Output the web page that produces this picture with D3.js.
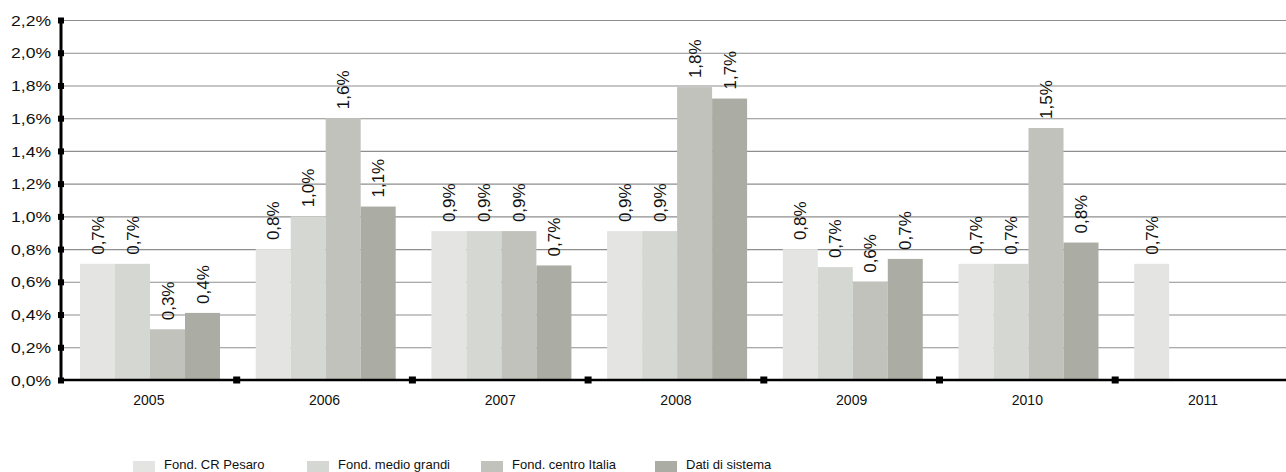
<!DOCTYPE html>
<html>
<head>
<meta charset="utf-8">
<script src="https://cdn.jsdelivr.net/npm/d3@7"></script>
<style>
  html, body { margin: 0; padding: 0; background: #fff; }
  svg { display: block; font-family: "Liberation Sans", Arial, Helvetica, sans-serif; }
</style>
</head>
<body>
<svg id="chart" width="1286" height="472"></svg>
<script>
// Rendimenti annui per anno (valori in punti percentuali)
const years = ["2005", "2006", "2007", "2008", "2009", "2010", "2011"];
const seriesNames = ["Fond. CR Pesaro", "Fond. medio grandi", "Fond. centro Italia", "Dati di sistema"];
const crPesaro     = [0.71, 0.80, 0.91, 0.91, 0.80, 0.71, 0.71];
const medioGrandi  = [0.71, 1.00, 0.91, 0.91, 0.69, 0.71, null];
const centroItalia = [0.31, 1.60, 0.91, 1.79, 0.60, 1.54, null];
const datiSistema  = [0.41, 1.06, 0.70, 1.72, 0.74, 0.84, null];
const yTicks = [0, 0.2, 0.4, 0.6, 0.8, 1.0, 1.2, 1.4, 1.6, 1.8, 2.0, 2.2];
const colors = ["#e4e4e2", "#d5d7d3", "#c0c2bb", "#abada5"];

const seriesValues = [crPesaro, medioGrandi, centroItalia, datiSistema];

const svg = d3.select("#chart");
const W = 1286;
const plotLeft = 61, plotTop = 20, plotBottom = 380;
const step = 175.7;
const labelStretch = 1.17;

const it = d3.formatLocale({ decimal: ",", thousands: ".", grouping: [3], currency: ["€", ""] });
const fmt = v => it.format(".1f")(v) + "%";

const x0 = d3.scaleBand().domain(years).range([plotLeft, plotLeft + step * years.length]).padding(0);
const x1 = d3.scaleBand().domain(seriesNames).range([19, 159]).padding(0);
const y = d3.scaleLinear().domain([0, 2.2]).range([plotBottom, plotTop]);

// Griglia orizzontale
svg.append("g")
  .attr("transform", `translate(${plotLeft},0)`)
  .call(d3.axisLeft(y).tickValues(yTicks).tickSize(-(W - plotLeft)).tickFormat(""))
  .call(g => g.select(".domain").remove())
  .call(g => g.selectAll(".tick line").attr("stroke", "#8e8e8e").attr("stroke-width", 1.1));

// Barre
const rows = years.map((yr, i) => ({ year: yr, vals: seriesNames.map((s, k) => ({ s, k, v: seriesValues[k][i] })) }));
const groups = svg.append("g").selectAll("g").data(rows).join("g")
  .attr("transform", d => `translate(${x0(d.year)},0)`);

groups.selectAll("rect").data(d => d.vals.filter(e => e.v != null)).join("rect")
  .attr("x", d => x1(d.s))
  .attr("width", x1.bandwidth())
  .attr("y", d => y(d.v))
  .attr("height", d => y(0) - y(d.v))
  .attr("fill", d => colors[d.k]);

// Etichette dei valori, ruotate
groups.selectAll("text").data(d => d.vals.filter(e => e.v != null)).join("text")
  .attr("transform", d => `translate(${x1(d.s) + x1.bandwidth() / 2 + 6},${y(d.v) - 9}) rotate(-90)`)
  .attr("text-anchor", "start")
  .attr("font-size", 17)
  .attr("fill", "#111")
  .text(d => fmt(d.v));

// Asse Y
const yAxis = svg.append("g")
  .attr("transform", `translate(${plotLeft},0)`)
  .call(d3.axisLeft(y).tickValues(yTicks).tickSize(0).tickPadding(0).tickFormat(fmt));
yAxis.select(".domain").remove();
yAxis.selectAll(".tick text")
  .attr("x", -10 / labelStretch)
  .attr("dy", "0.34em")
  .attr("transform", `scale(${labelStretch},1)`)
  .attr("font-size", 15)
  .attr("font-family", "'Liberation Sans', Arial, sans-serif")
  .attr("fill", "#111");
yAxis.selectAll(".tick").append("rect")
  .attr("x", -3).attr("y", -3).attr("width", 6).attr("height", 6).attr("fill", "#000");
yAxis.append("line")
  .attr("x1", 0).attr("x2", 0).attr("y1", plotTop).attr("y2", plotBottom)
  .attr("stroke", "#000").attr("stroke-width", 3);

// Asse X
const xAxis = svg.append("g")
  .attr("transform", `translate(0,${plotBottom})`)
  .call(d3.axisBottom(x0).tickSize(0).tickPadding(15));
xAxis.select(".domain").remove();
xAxis.selectAll(".tick text")
  .attr("font-size", 14)
  .attr("font-family", "'Liberation Sans', Arial, sans-serif")
  .attr("fill", "#111");
xAxis.append("line")
  .attr("x1", plotLeft).attr("x2", W).attr("y1", 0).attr("y2", 0)
  .attr("stroke", "#000").attr("stroke-width", 2.5);
xAxis.selectAll(".sep").data(years.slice(1)).join("rect")
  .attr("class", "sep")
  .attr("x", d => x0(d) - 3.5).attr("y", -3.5)
  .attr("width", 7).attr("height", 7).attr("fill", "#000");

// Legenda
const legend = svg.append("g").selectAll("g").data(seriesNames).join("g")
  .attr("transform", (d, i) => `translate(${133 + i * 174},461)`);
legend.append("rect")
  .attr("width", 22).attr("height", 22)
  .attr("fill", (d, i) => colors[i]);
legend.append("text")
  .attr("x", 31).attr("y", 7.5)
  .attr("font-size", 13)
  .attr("fill", "#111")
  .text(d => d);
</script>
</body>
</html>
